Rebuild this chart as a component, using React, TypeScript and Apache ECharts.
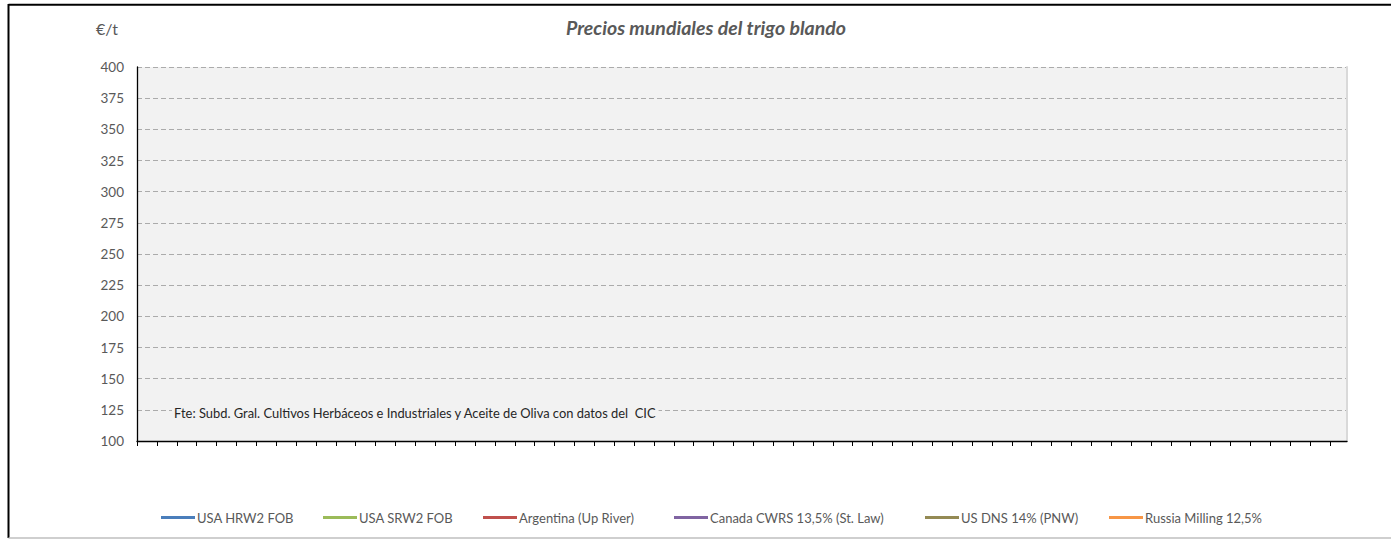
import React, { useEffect, useRef } from "react";
import * as echarts from "echarts";

// ---- data ----
const chartTitle = "Precios mundiales del trigo blando";
const unitLabel = "€/t";
const sourceNote =
  "Fte: Subd. Gral. Cultivos Herbáceos e Industriales y Aceite de Oliva con datos del  CIC";

const seriesNames = [
  "USA HRW2 FOB",
  "USA SRW2 FOB",
  "Argentina (Up River)",
  "Canada CWRS 13,5% (St. Law)",
  "US DNS 14% (PNW)",
  "Russia Milling 12,5%",
];
const seriesColors = ["#4A7EBB", "#9BBB59", "#C0504D", "#8064A2", "#948A54", "#F79646"];

// the reference chart shows no data points
const usaHrw2Fob: number[][] = [];
const usaSrw2Fob: number[][] = [];
const argentinaUpRiver: number[][] = [];
const canadaCwrs: number[][] = [];
const usDns14: number[][] = [];
const russiaMilling: number[][] = [];
const seriesData = [usaHrw2Fob, usaSrw2Fob, argentinaUpRiver, canadaCwrs, usDns14, russiaMilling];

const yMin = 100;
const yMax = 400;
const yStep = 25;
const xPeriods = [
  0, 1, 2, 3, 4, 5, 6, 7, 8, 9, 10, 11, 12, 13, 14, 15, 16, 17, 18, 19, 20, 21, 22, 23, 24, 25, 26,
  27, 28, 29, 30, 31, 32, 33, 34, 35, 36, 37, 38, 39, 40, 41, 42, 43, 44, 45, 46, 47, 48, 49, 50,
  51, 52, 53, 54, 55, 56, 57, 58, 59, 60,
];
const xMax = 60.86;

// ---- layout ----
const legendLefts = [156, 318, 478, 669, 920, 1104];
const FONT = "Lato, 'Open Sans', sans-serif";

export default function App() {
  const ref = useRef<HTMLDivElement>(null);

  useEffect(() => {
    if (!ref.current) return;
    const chart = echarts.init(ref.current, undefined, { renderer: "svg" });

    const option: any = {
      animation: false,
      backgroundColor: "#ffffff",
      grid: {
        left: 137,
        top: 67,
        right: 44,
        bottom: 98,
        show: true,
        backgroundColor: "#F2F2F2",
        borderWidth: 0,
      },
      xAxis: {
        type: "value",
        min: 0,
        max: xMax,
        axisLine: { show: true, onZero: false, lineStyle: { color: "#000000", width: 1.3 } },
        axisTick: {
          show: true,
          inside: false,
          length: 5,
          customValues: xPeriods,
          lineStyle: { color: "#000000", width: 1 },
        },
        axisLabel: { show: false },
        splitLine: { show: false },
      },
      yAxis: [
        {
          type: "value",
          min: yMin,
          max: yMax,
          interval: yStep,
          axisLine: { show: true, lineStyle: { color: "#000000", width: 1.3 } },
          axisTick: { show: false },
          axisLabel: {
            show: true,
            margin: 13,
            color: "#595959",
            fontFamily: FONT,
            fontSize: 13.5,
          },
          splitLine: {
            show: true,
            lineStyle: { color: "#ABABAB", type: [5, 3], width: 1 },
          },
        },
        {
          type: "value",
          min: yMin,
          max: yMax,
          interval: yStep,
          position: "right",
          axisLine: { show: true, lineStyle: { color: "#D9D9D9", width: 2 } },
          axisTick: { show: false },
          axisLabel: { show: false },
          splitLine: { show: false },
        },
      ],
      legend: seriesNames.map((name, i) => ({
        data: [name],
        left: legendLefts[i],
        top: 506,
        icon: "rect",
        itemWidth: 34,
        itemHeight: 3,
        itemGap: 0,
        selectedMode: false,
        textStyle: { color: "#595959", fontFamily: FONT, fontSize: 13, padding: [0, 0, 0, -3] },
      })),
      series: seriesNames.map((name, i) => ({
        name,
        type: "line",
        data: seriesData[i],
        showSymbol: false,
        itemStyle: { color: seriesColors[i] },
        lineStyle: { color: seriesColors[i], width: 2.25 },
      })),
      graphic: [
        {
          type: "line",
          shape: { x1: 8.5, y1: 4.8, x2: 1391, y2: 4.8 },
          style: { stroke: "#000000", lineWidth: 2 },
          silent: true,
        },
        {
          type: "line",
          shape: { x1: 8.5, y1: 4, x2: 8.5, y2: 538 },
          style: { stroke: "#000000", lineWidth: 2 },
          silent: true,
        },
        {
          type: "line",
          shape: { x1: 8.5, y1: 538, x2: 1391, y2: 538 },
          style: { stroke: "#BFBFBF", lineWidth: 1.5 },
          silent: true,
        },
        {
          type: "text",
          x: 706,
          y: 27,
          style: {
            text: chartTitle,
            fill: "#595959",
            font: `italic bold 19.5px ${FONT}`,
            align: "center",
            verticalAlign: "middle",
          },
          silent: true,
        },
        {
          type: "text",
          x: 96,
          y: 28,
          style: {
            text: unitLabel,
            fill: "#595959",
            font: `16px ${FONT}`,
            align: "left",
            verticalAlign: "middle",
          },
          silent: true,
        },
        {
          type: "text",
          x: 172,
          y: 413,
          z: 100,
          style: {
            text: sourceNote,
            fill: "#262626",
            font: `12.9px ${FONT}`,
            align: "left",
            verticalAlign: "middle",
            backgroundColor: "#F2F2F2",
            padding: [0, 2],
          },
          silent: true,
        },
      ],
    };

    chart.setOption(option);
    return () => chart.dispose();
  }, []);

  return (
    <div
      ref={ref}
      style={{ position: "absolute", left: 0, top: 0, width: 1391, height: 539 }}
    />
  );
}
